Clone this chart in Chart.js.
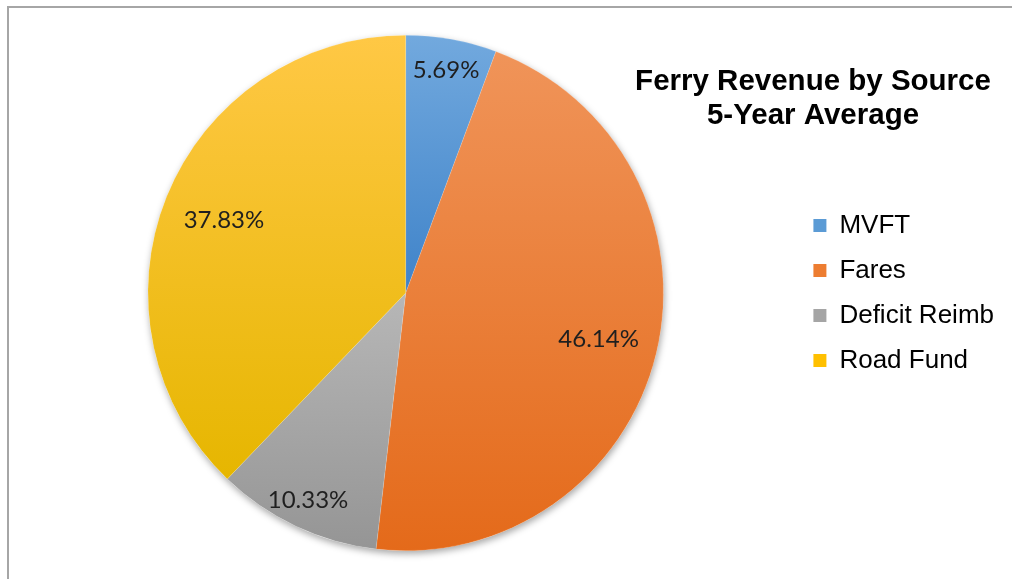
<!DOCTYPE html>
<html>
<head>
<meta charset="utf-8">
<script src="https://cdn.jsdelivr.net/npm/chart.js@4"></script>
<style>
  body { margin: 0; background: #fff; }
  #wrap { position: relative; width: 1012px; height: 579px; }
  #frame { position: absolute; left: 7px; top: 6px; right: -10px; bottom: -10px;
           border-left: 2px solid #a6a6a6; border-top: 2px solid #a6a6a6; pointer-events: none; }
</style>
</head>
<body>
<div id="wrap">
  <canvas id="pie"></canvas>
  <div id="frame"></div>
</div>
<script>
// data
const categories = ["MVFT", "Fares", "Deficit Reimb", "Road Fund"];
const shares = [5.69, 46.14, 10.33, 37.83];
const titleLines = ["Ferry Revenue by Source", "5-Year Average"];

// colours: flat for legend, light/dark for the slice gradient
const flatColors = ["#5b9bd5", "#ed7d31", "#a5a5a5", "#ffc000"];
const topColors = ["#72a9de", "#f09459", "#b7b7b7", "#ffc845"];
const bottomColors = ["#3f83c9", "#e46a1a", "#959595", "#e6b600"];

// vertical extent of one slice, so each one gets its own gradient
function sliceBounds(chart, i) {
  const a = chart.chartArea;
  const cx = (a.left + a.right) / 2, cy = (a.top + a.bottom) / 2;
  const r = Math.min(a.right - a.left, a.bottom - a.top) / 2;
  const total = shares.reduce((s, v) => s + v, 0);
  let before = 0;
  for (let k = 0; k < i; k++) before += shares[k];
  const a0 = -Math.PI / 2 + (before / total) * Math.PI * 2;
  const a1 = a0 + (shares[i] / total) * Math.PI * 2;
  const ys = [cy, cy + r * Math.sin(a0), cy + r * Math.sin(a1)];
  if (a0 <= -Math.PI / 2 + 1e-6) ys.push(cy - r);
  if (a0 < Math.PI / 2 && a1 > Math.PI / 2) ys.push(cy + r);
  if (a1 > 1.5 * Math.PI) ys.push(cy - r);
  return [Math.min(...ys), Math.max(...ys)];
}

function sliceFill(ctx) {
  const chart = ctx.chart;
  const i = ctx.dataIndex;
  if (!chart.chartArea) return flatColors[i];
  const [y0, y1] = sliceBounds(chart, i);
  const g = chart.ctx.createLinearGradient(0, y0, 0, y1);
  g.addColorStop(0, topColors[i]);
  g.addColorStop(1, bottomColors[i]);
  return g;
}

// soft shadow under the whole pie
const pieShadow = {
  id: "pieShadow",
  beforeDatasetsDraw(chart) {
    const arc = chart.getDatasetMeta(0).data[0];
    if (!arc) return;
    const c = chart.ctx;
    c.save();
    c.shadowColor = "rgba(0,0,0,0.35)";
    c.shadowBlur = 7;
    c.shadowOffsetX = 1;
    c.shadowOffsetY = 3;
    c.fillStyle = "#fff";
    c.beginPath();
    c.arc(arc.x, arc.y, arc.outerRadius, 0, Math.PI * 2);
    c.fill();
    c.restore();
  }
};

// percent labels inside the slices
const sliceLabels = {
  id: "sliceLabels",
  afterDatasetsDraw(chart, args, opts) {
    const c = chart.ctx;
    c.save();
    c.font = opts.font;
    c.fillStyle = "#1f1f1f";
    c.textAlign = "center";
    c.textBaseline = "middle";
    chart.getDatasetMeta(0).data.forEach((arc, i) => {
      const mid = (arc.startAngle + arc.endAngle) / 2;
      const r = arc.outerRadius * opts.radius[i];
      c.fillText(shares[i].toFixed(2) + "%", arc.x + Math.cos(mid) * r, arc.y + Math.sin(mid) * r);
    });
    c.restore();
  }
};

// title in the upper right corner
const cornerTitle = {
  id: "cornerTitle",
  afterDraw(chart, args, opts) {
    const c = chart.ctx;
    c.save();
    c.font = opts.font;
    c.fillStyle = "#000";
    c.textAlign = "center";
    c.textBaseline = "middle";
    titleLines.forEach((t, k) => c.fillText(t, opts.x, opts.y + k * opts.lineHeight));
    c.restore();
  }
};

new Chart(document.getElementById("pie"), {
  type: "pie",
  data: {
    labels: categories,
    datasets: [{
      data: shares,
      backgroundColor: sliceFill,
      borderWidth: 0.5,
      borderColor: "rgba(255,255,255,0.25)",
    }],
  },
  options: {
    responsive: true,
    maintainAspectRatio: false,
    animation: false,
    layout: { padding: { left: 17, right: 8, top: 35, bottom: 28 } },
    plugins: {
      tooltip: { enabled: false },
      legend: {
        position: "right",
        align: "center",
        labels: {
          boxWidth: 13,
          boxHeight: 13,
          padding: 19,
          color: "#000",
          font: { family: "'Liberation Sans', Arial, sans-serif", size: 26 },
          generateLabels: () => categories.map((t, i) => ({
            text: t, fillStyle: flatColors[i], strokeStyle: flatColors[i],
            lineWidth: 0, hidden: false, index: i,
          })),
        },
      },
      sliceLabels: { font: "24px Lato, 'Open Sans', sans-serif", radius: [0.88, 0.77, 0.89, 0.76] },
      cornerTitle: { font: "bold 29.5px 'Liberation Sans', Arial, sans-serif", x: 813, y: 82, lineHeight: 34 },
    },
  },
  plugins: [pieShadow, sliceLabels, cornerTitle],
});
</script>
</body>
</html>
